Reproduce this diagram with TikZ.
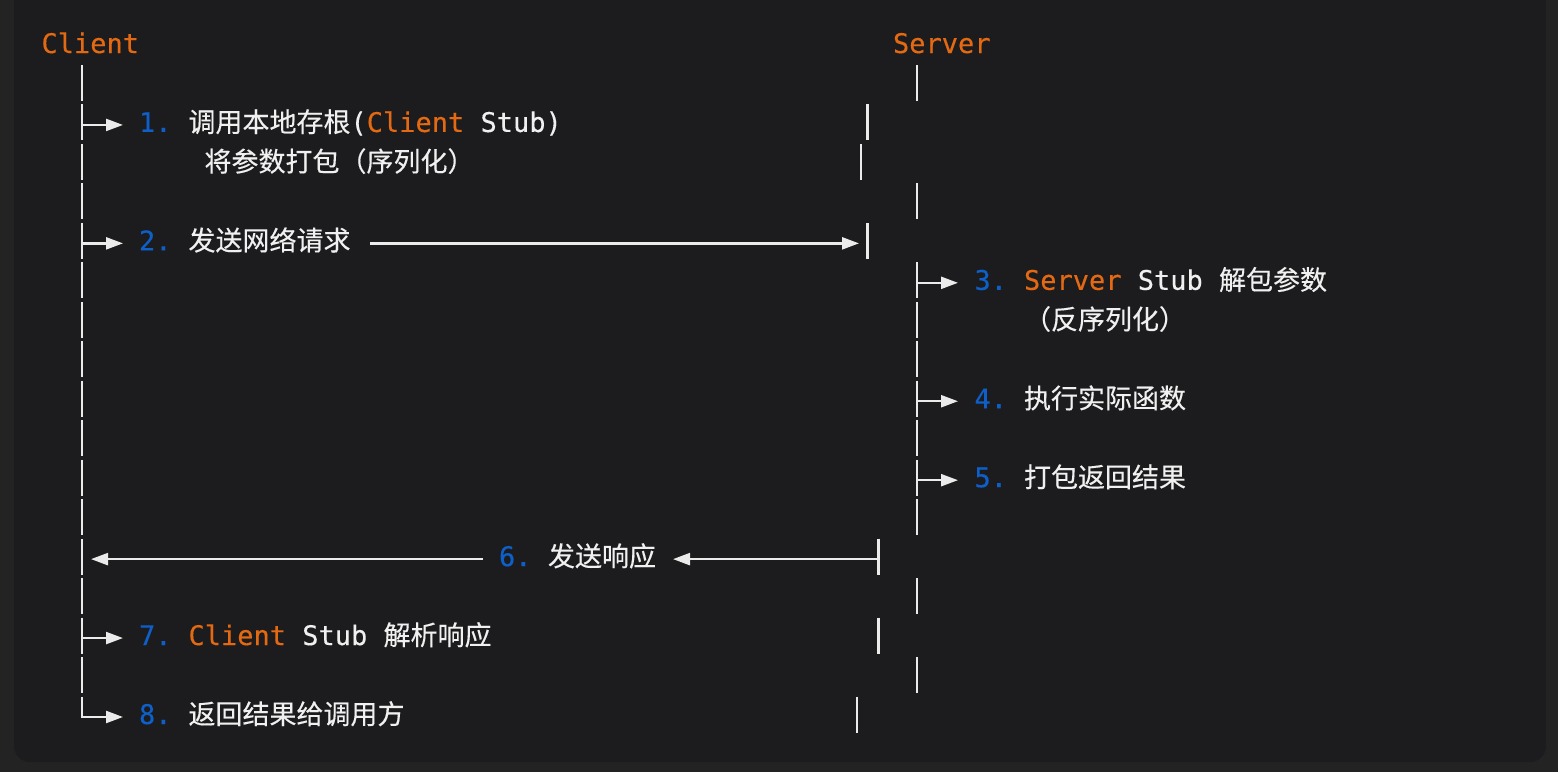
\documentclass[tikz,border=0pt]{standalone}
\usepackage{fontspec}
\setmainfont{DejaVu Sans Mono}[FakeBold=0.3]
\newfontfamily\cjk{Noto Sans CJK SC}[FakeBold=0.3]
\usetikzlibrary{arrows.meta}
\definecolor{outerbg}{HTML}{232323}
\definecolor{panel}{HTML}{1C1C1E}
\definecolor{orng}{HTML}{E36A12}
\definecolor{blu}{HTML}{0E5FC8}
\definecolor{txt}{HTML}{F0F0F0}
\definecolor{ln}{HTML}{EBEBEB}
\begin{document}
\begin{tikzpicture}[x=1pt,y=-1pt,
  lbl/.style={anchor=base west, inner sep=0pt, outer sep=0pt, text=txt, font=\fontsize{27}{32}\selectfont},
  num/.style={lbl, text=blu},
  hd/.style={lbl, text=orng},
  bar/.style={draw=ln, line width=2.4pt},
  hline/.style={draw=ln, line width=2.3pt},
  tip/.style={-{Triangle[length=17pt,width=12pt]}},
  arr/.style={hline, tip},
]
\useasboundingbox (0,0) rectangle (1558,772);
\fill[outerbg] (0,0) rectangle (1558,772);
\begin{scope}
\clip (0,0) rectangle (1558,772);
\fill[panel, rounded corners=16pt] (14,-40) rectangle (1546,762);
\end{scope}
% headers
\node[hd] (client) at (41.5,53) {Client};
\node[hd] (server) at (893,53) {Server};
% left lifeline (rows 1..16)
\foreach \k in {1,...,16}
  \draw[bar] (82,{53+39.47*\k-27.5}) -- (82,{53+39.47*\k+8.5});
% server lifeline segments
\foreach \k in {1,4,6,7,8,9,10,11,12,14,16}
  \draw[bar] (917,{53+39.47*\k-27.5}) -- (917,{53+39.47*\k+8.5});
% stray right bars
\foreach \k/\xx in {2/867.5,3/861,5/867.5,13/878.5,15/878.5,17/857}
  \draw[bar] (\xx,{53+39.47*\k-27.5}) -- (\xx,{53+39.47*\k+8.5});
% row 17 corner
\coordinate (c17t) at (82,{53+39.47*17-27.5});
\coordinate (c17) at (82,{53+39.47*17-7});
\coordinate (c17e) at (123,{53+39.47*17-7});
\draw[hline, line join=miter, tip] (c17t) -- (c17) -- (c17e);
% left branch arrows
\foreach \k in {2,5,15}{
  \coordinate (l\k s) at (82,{53+39.47*\k-7});
  \coordinate (l\k e) at (123,{53+39.47*\k-7});
  \draw[arr] (l\k s) -- (l\k e);
}
% server branch arrows
\foreach \k in {6,9,11}{
  \coordinate (s\k s) at (917,{53+39.47*\k-7});
  \coordinate (s\k e) at (958,{53+39.47*\k-7});
  \draw[arr] (s\k s) -- (s\k e);
}
% row 5 request arrow
\coordinate (r5s) at (370,{53+39.47*5-7});
\coordinate (r5e) at (859,{53+39.47*5-7});
\draw[arr] (r5s) -- (r5e);
% row 13 response arrows
\coordinate (r13a) at (878.5,{53+39.47*13-7});
\coordinate (r13b) at (673,{53+39.47*13-7});
\coordinate (r13c) at (483,{53+39.47*13-7});
\coordinate (r13d) at (91,{53+39.47*13-7});
\draw[arr] (r13a) -- (r13b);
\draw[arr] (r13c) -- (r13d);
% labels
\node[num] (n1) at (139,{53+39.47*2}) {1.};
\node[lbl] (t1) at (188.5,{53+39.47*2}) {{\cjk 调用本地存根}(\textcolor{orng}{Client} Stub)};
\node[lbl] (t1b) at (204.5,{53+39.47*3}) {\cjk 将参数打包（序列化）};
\node[num] (n2) at (139,{53+39.47*5}) {2.};
\node[lbl] (t2) at (188.5,{53+39.47*5}) {\cjk 发送网络请求};
\node[num] (n3) at (974.5,{53+39.47*6}) {3.};
\node[lbl] (t3) at (1024,{53+39.47*6}) {\textcolor{orng}{Server} Stub {\cjk 解包参数}};
\node[lbl] (t3b) at (1024,{53+39.47*7}) {\cjk （反序列化）};
\node[num] (n4) at (974.5,{53+39.47*9}) {4.};
\node[lbl] (t4) at (1024,{53+39.47*9}) {\cjk 执行实际函数};
\node[num] (n5) at (974.5,{53+39.47*11}) {5.};
\node[lbl] (t5) at (1024,{53+39.47*11}) {\cjk 打包返回结果};
\node[num] (n6) at (499,{53+39.47*13}) {6.};
\node[lbl] (t6) at (548,{53+39.47*13}) {\cjk 发送响应};
\node[num] (n7) at (139,{53+39.47*15}) {7.};
\node[lbl] (t7) at (188.5,{53+39.47*15}) {\textcolor{orng}{Client} Stub {\cjk 解析响应}};
\node[num] (n8) at (139,{53+39.47*17}) {8.};
\node[lbl] (t8) at (188.5,{53+39.47*17}) {\cjk 返回结果给调用方};
\end{tikzpicture}
\end{document}
